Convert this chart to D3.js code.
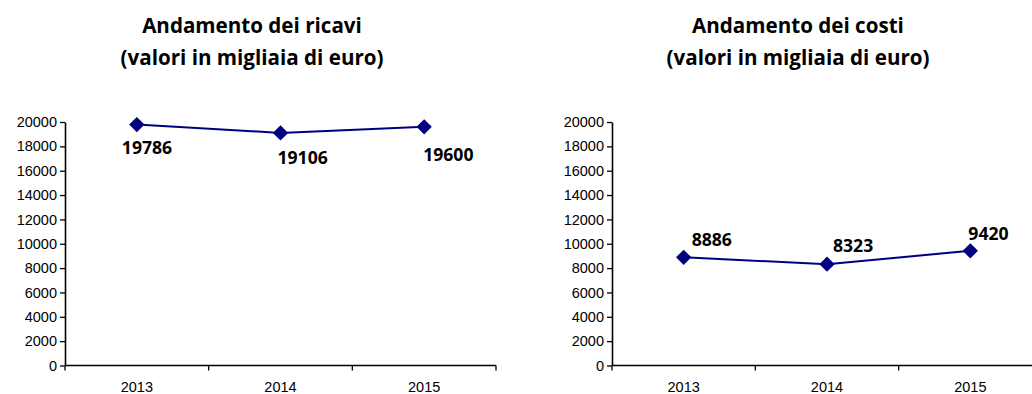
<!DOCTYPE html>
<html>
<head>
<meta charset="utf-8">
<script src="https://cdn.jsdelivr.net/npm/d3@7"></script>
<style>
  html, body { margin: 0; padding: 0; background: #fff; }
  svg { display: block; }
</style>
</head>
<body>
<svg id="chart" width="1032" height="394"></svg>
<script>
// Years on the category axis
const years = ["2013", "2014", "2015"];
// Revenues and costs, thousands of euro
const ricavi = [19786, 19106, 19600];
const costi = [8886, 8323, 9420];
// Value-axis ticks
const yTicks = [0, 2000, 4000, 6000, 8000, 10000, 12000, 14000, 16000, 18000, 20000];

const svg = d3.select("#chart");
const navy = "#000080";

function drawPanel(cfg) {
  const g = svg.append("g");
  const x = d3.scaleBand().domain(years).range([cfg.x0, cfg.x1]);
  const y = d3.scaleLinear().domain([0, 20000]).range([cfg.y0, cfg.y1]);

  // title, two lines
  const t = g.append("text")
    .attr("text-anchor", "middle")
    .attr("font-family", "'Open Sans', sans-serif")
    .attr("font-weight", "bold")
    .attr("font-size", 20.6)
    .attr("fill", "#000");
  cfg.title.forEach((line, i) => {
    t.append("tspan").attr("x", cfg.titleX).attr("y", 33 + i * 32).text(line);
  });

  // y axis
  const ya = g.append("g")
    .attr("transform", `translate(${cfg.x0},0)`)
    .call(d3.axisLeft(y).tickValues(yTicks).tickFormat(d3.format("d"))
      .tickSize(5).tickSizeOuter(0).tickPadding(3));
  ya.select(".domain").attr("stroke", "#000").attr("stroke-width", 1.6);
  ya.selectAll(".tick line").attr("stroke", "#000").attr("stroke-width", 1.3);
  ya.selectAll(".tick text")
    .attr("font-family", "'Liberation Sans', Arial, sans-serif")
    .attr("font-size", 14.5).attr("fill", "#000");

  // x axis with boundary ticks between categories
  const xa = g.append("g").attr("transform", `translate(0,${cfg.y0})`);
  xa.append("line")
    .attr("x1", cfg.x0).attr("x2", cfg.x1)
    .attr("stroke", "#000").attr("stroke-width", 1.6);
  const bounds = years.map(d => x(d)).concat([cfg.x1]);
  xa.selectAll("line.bt").data(bounds).enter().append("line")
    .attr("class", "bt")
    .attr("x1", d => d).attr("x2", d => d)
    .attr("y1", 0).attr("y2", 5)
    .attr("stroke", "#000").attr("stroke-width", 1.3);
  xa.selectAll("text").data(years).enter().append("text")
    .attr("x", d => x(d) + x.bandwidth() / 2)
    .attr("y", 26.8)
    .attr("text-anchor", "middle")
    .attr("font-family", "'Liberation Sans', Arial, sans-serif")
    .attr("font-size", 14.5)
    .attr("fill", "#000")
    .text(d => d);

  const pts = cfg.values.map((v, i) => ({ year: years[i], v, off: cfg.labelOffsets[i] }));
  const cx = d => x(d.year) + x.bandwidth() / 2;

  g.append("path")
    .datum(pts)
    .attr("fill", "none")
    .attr("stroke", navy)
    .attr("stroke-width", 2)
    .attr("d", d3.line().x(cx).y(d => y(d.v)));

  g.selectAll("path.mk").data(pts).enter().append("path")
    .attr("class", "mk")
    .attr("transform", d => `translate(${cx(d)},${y(d.v)})`)
    .attr("d", d3.symbol().type(d3.symbolDiamond2).size(150))
    .attr("fill", navy);

  g.selectAll("text.lbl").data(pts).enter().append("text")
    .attr("class", "lbl")
    .attr("x", d => cx(d) + d.off[0])
    .attr("y", d => y(d.v) + d.off[1])
    .attr("font-family", "'Open Sans', sans-serif")
    .attr("font-weight", "bold")
    .attr("font-size", 17.6)
    .attr("fill", "#000")
    .text(d => d.v);
}

drawPanel({
  x0: 65, x1: 496, y0: 365.5, y1: 122,
  titleX: 252,
  title: ["Andamento dei ricavi", "(valori in migliaia di euro)"],
  values: ricavi,
  labelOffsets: [[-15, 29], [-3, 31], [-1, 34]]
});

drawPanel({
  x0: 612, x1: 1042, y0: 365.5, y1: 122,
  titleX: 798,
  title: ["Andamento dei costi", "(valori in migliaia di euro)"],
  values: costi,
  labelOffsets: [[8, -11], [6, -12], [-2, -11]]
});
</script>
</body>
</html>
